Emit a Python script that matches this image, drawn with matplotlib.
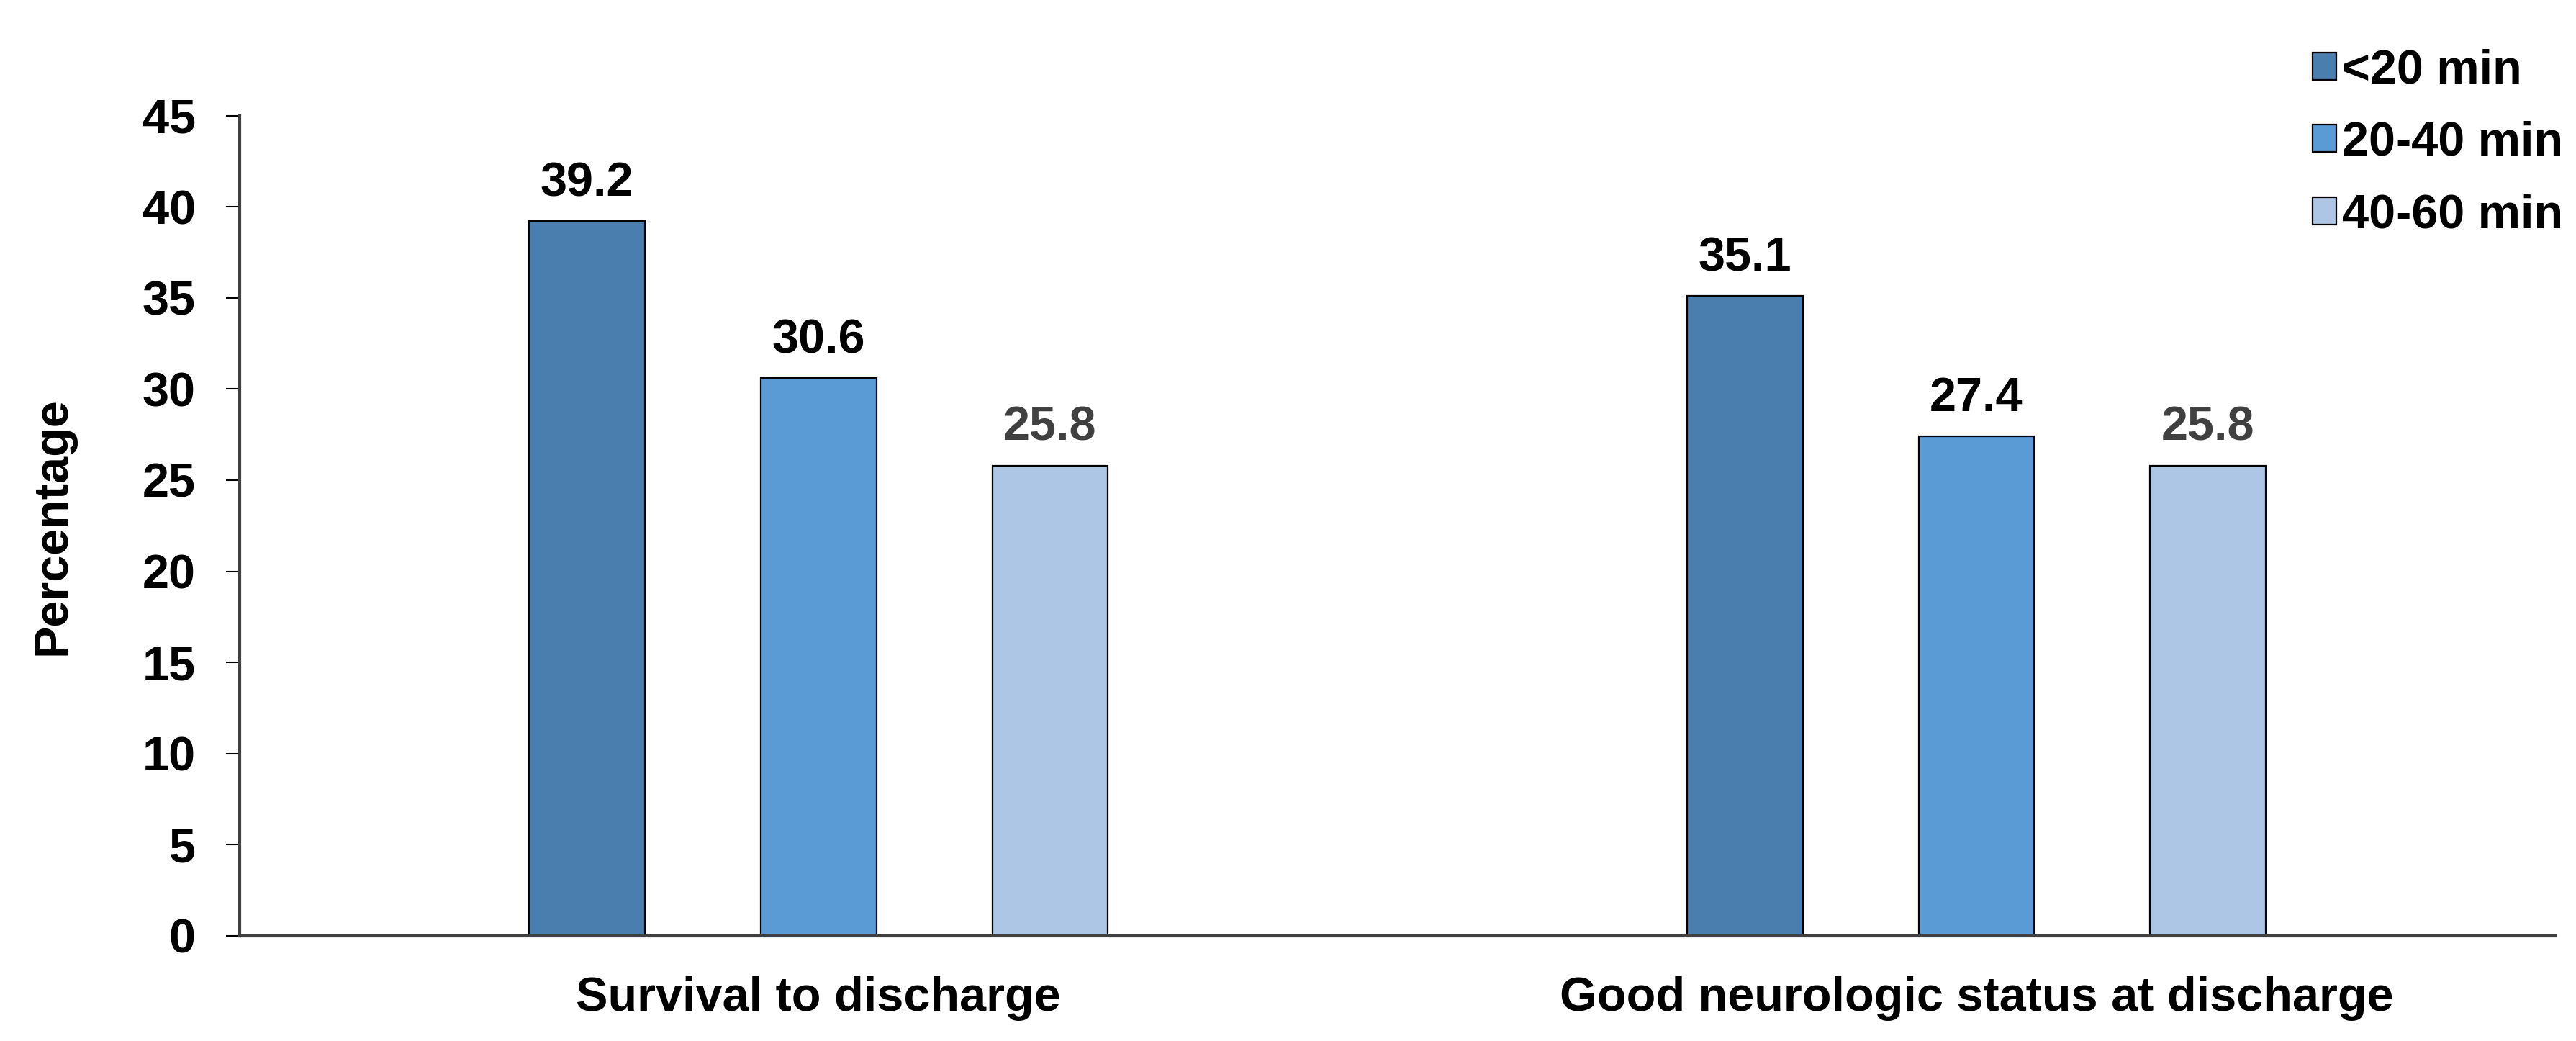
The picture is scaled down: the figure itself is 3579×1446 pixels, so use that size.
"""Grouped bar chart: survival and good neurologic status by time interval."""

import matplotlib

matplotlib.use("Agg")

import matplotlib.pyplot as plt
import numpy as np

categories = ["Survival to discharge", "Good neurologic status at discharge"]
series_names = ["<20 min", "20-40 min", "40-60 min"]
values = [
    [39.2, 35.1],
    [30.6, 27.4],
    [25.8, 25.8],
]
y_ticks = [0, 5, 10, 15, 20, 25, 30, 35, 40, 45]

bar_colors = ["#4a7eae", "#5b9bd5", "#adc6e5"]
label_colors = ["black", "black", "#404040"]

plt.rcParams["font.family"] = ["Liberation Sans", "DejaVu Sans"]
plt.rcParams["font.weight"] = "bold"

fig = plt.figure(figsize=(35.79, 14.46), dpi=100)
ax = fig.add_axes([0.093, 0.101, 0.899, 0.788])

x = np.arange(len(categories))
offsets = [-0.2, 0.0, 0.2]
width = 0.1

for i, name in enumerate(series_names):
    bars = ax.bar(
        x + offsets[i], values[i], width,
        color=bar_colors[i], edgecolor="black", linewidth=1.6, label=name,
    )
    for rect, v in zip(bars, values[i]):
        ax.annotate(
            f"{v:.1f}",
            (rect.get_x() + rect.get_width() / 2, rect.get_height()),
            xytext=(0, 25), textcoords="offset points",
            ha="center", va="baseline",
            fontsize=48, fontweight="bold", color=label_colors[i],
        )

ax.set_xlim(-0.5, 1.5)
ax.set_ylim(0, 45)
ax.set_yticks(y_ticks)
ax.set_xticks(x)
ax.set_xticklabels(categories)
ax.tick_params(axis="y", direction="out", length=14, width=1.5,
               labelsize=48, pad=30, color="black")
ax.tick_params(axis="x", length=0, labelsize=48, pad=40)
for lbl in ax.get_yticklabels() + ax.get_xticklabels():
    lbl.set_fontweight("bold")

for side in ("top", "right"):
    ax.spines[side].set_visible(False)
for side in ("left", "bottom"):
    ax.spines[side].set_linewidth(3)
    ax.spines[side].set_color("#404040")

ax.set_ylabel("Percentage", fontsize=48, fontweight="bold")
ax.yaxis.set_label_coords(-0.071, 0.5)

fig.legend(
    loc="upper left", bbox_to_anchor=(0.881, 0.995),
    frameon=False, handlelength=0.5, handleheight=0.5,
    handletextpad=0.12, labelspacing=0.58,
    prop={"weight": "bold", "size": 48},
)

fig.savefig("out.png", dpi=100)
plt.close(fig)
